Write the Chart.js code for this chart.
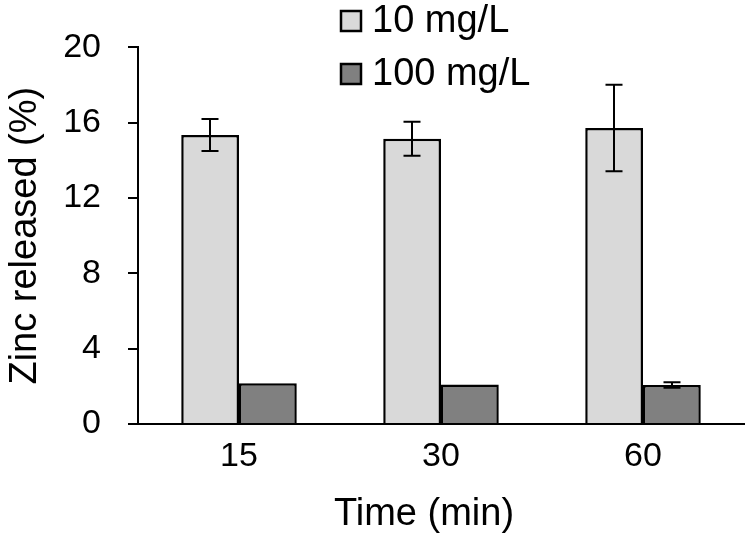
<!DOCTYPE html>
<html>
<head>
<meta charset="utf-8">
<script src="https://cdn.jsdelivr.net/npm/chart.js@4.4.1/dist/chart.umd.min.js"></script>
<style>
  html, body { margin: 0; padding: 0; background: #fff; }
  #wrap { width: 750px; height: 540px; }
</style>
</head>
<body>
<div id="wrap"><canvas id="zincChart" width="750" height="540"></canvas></div>
<script>
// Zinc release over time, two concentrations
const timeLabels = ['15', '30', '60'];
const seriesNames = ['10 mg/L', '100 mg/L'];
const low = [15.35, 15.15, 15.72];
const lowErr = [0.85, 0.9, 2.3];
const high = [2.16, 2.1, 2.07];
const highErr = [0, 0, 0.15];
const yTicks = [0, 4, 8, 12, 16, 20];
const xTitle = 'Time (min)';

const fontFamily = 'Arial, "Liberation Sans", sans-serif';

// error bars drawn through the scales
const errorBars = {
    id: 'errorBars',
    afterDatasetsDraw(chart) {
        const ctx = chart.ctx;
        const y = chart.scales.y;
        const errs = [lowErr, highErr];
        ctx.save();
        ctx.strokeStyle = '#000';
        ctx.lineWidth = 2;
        chart.data.datasets.forEach(function(ds, di) {
            const meta = chart.getDatasetMeta(di);
            meta.data.forEach(function(bar, i) {
                const e = errs[di][i];
                if (!e) return;
                const v = ds.data[i];
                const top = y.getPixelForValue(v + e);
                const bot = y.getPixelForValue(v - e);
                const cx = Math.round(bar.x);
                ctx.beginPath();
                ctx.moveTo(cx, top);
                ctx.lineTo(cx, bot);
                ctx.moveTo(cx - 8.5, top);
                ctx.lineTo(cx + 8.5, top);
                ctx.moveTo(cx - 8.5, bot);
                ctx.lineTo(cx + 8.5, bot);
                ctx.stroke();
            });
        });
        ctx.restore();
    }
};

// legend stacked at top, overlapping the plot, plus the x title
const boxLegend = {
    id: 'boxLegend',
    afterDraw(chart) {
        const ctx = chart.ctx;
        ctx.save();
        ctx.font = '38px ' + fontFamily;
        ctx.textBaseline = 'middle';
        chart.data.datasets.forEach(function(ds, i) {
            const yy = 21 + i * 53;
            ctx.fillStyle = ds.backgroundColor;
            ctx.fillRect(341, yy - 10, 20, 20);
            ctx.strokeStyle = '#000';
            ctx.lineWidth = 2.5;
            ctx.strokeRect(341, yy - 10, 20, 20);
            ctx.fillStyle = '#000';
            ctx.fillText(seriesNames[i], 372, yy + 1);
        });
        // x axis title, centred a bit left of the plot centre as in the source
        ctx.font = '38px ' + fontFamily;
        ctx.textAlign = 'center';
        ctx.textBaseline = 'alphabetic';
        ctx.fillText(xTitle, 424, 525);
        ctx.restore();
    }
};

new Chart(document.getElementById('zincChart'), {
    type: 'bar',
    data: {
        labels: timeLabels,
        datasets: [
            {
                label: seriesNames[0],
                data: low,
                backgroundColor: '#d9d9d9',
                borderColor: '#000',
                borderWidth: 2.5,
                borderSkipped: 'bottom',
                barPercentage: 1,
                categoryPercentage: 0.572
            },
            {
                label: seriesNames[1],
                data: high,
                backgroundColor: '#808080',
                borderColor: '#000',
                borderWidth: 2.5,
                borderSkipped: 'bottom',
                barPercentage: 1,
                categoryPercentage: 0.572
            }
        ]
    },
    options: {
        responsive: false,
        animation: false,
        layout: { padding: { top: 43, right: 6, left: 0, bottom: 0 } },
        plugins: {
            legend: { display: false },
            tooltip: { enabled: false }
        },
        scales: {
            x: {
                grid: { display: false },
                border: { color: '#000', width: 2 },
                ticks: {
                    color: '#000',
                    font: { size: 34, family: fontFamily },
                    padding: 4
                },
                title: { display: false },
                afterFit: function(scale) { scale.height = 116; }
            },
            y: {
                min: 0,
                max: 20,
                afterBuildTicks: function(scale) {
                    scale.ticks = yTicks.map(function(v) { return { value: v }; });
                },
                grid: {
                    drawOnChartArea: false,
                    drawTicks: true,
                    tickLength: 10,
                    color: '#000',
                    lineWidth: 2
                },
                border: { color: '#000', width: 2 },
                ticks: {
                    color: '#000',
                    font: { size: 34, family: fontFamily },
                    padding: 27
                },
                title: {
                    display: true,
                    text: 'Zinc released (%)',
                    color: '#000',
                    font: { size: 38, family: fontFamily },
                    padding: { top: 3, bottom: 4 }
                },
                afterFit: function(scale) { scale.width = 138; }
            }
        }
    },
    plugins: [errorBars, boxLegend]
});
</script>
</body>
</html>
